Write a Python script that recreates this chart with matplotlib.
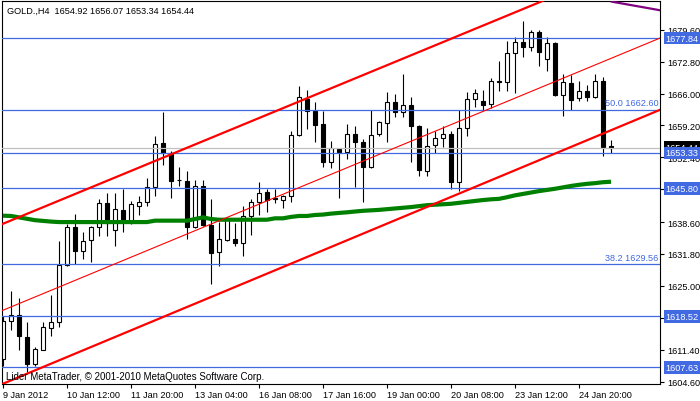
import matplotlib
matplotlib.use("Agg")
import matplotlib.pyplot as plt
import matplotlib.transforms as mtransforms
import numpy as np

plt.rcParams['font.family'] = ['Liberation Sans', 'DejaVu Sans']

## candles, H4 bars (index 0 = 9 Jan 2012 04:00)
opens = [1609.5, 1617.57, 1618.85, 1614.09, 1608.34, 1611.39, 1615.95, 1617.23, 1629.45, 1637.48,
         1632.50, 1634.84, 1637.48, 1642.67, 1636.97, 1641.17, 1638.68, 1642.09, 1642.81, 1646.01,
         1655.46, 1653.33, 1647.60, 1647.36, 1637.61, 1646.23, 1637.97, 1632.15, 1634.78, 1634.93,
         1634.07, 1640.00, 1642.81, 1644.95, 1643.70, 1643.31, 1644.09, 1657.23, 1664.84, 1662.22,
         1659.51, 1651.47, 1654.18, 1653.60, 1657.38, 1655.74, 1650.28, 1657.38, 1659.72, 1664.14,
         1662.00, 1663.56, 1659.02, 1649.55, 1655.03, 1656.46, 1657.38, 1647.08, 1658.59, 1664.78,
         1664.48, 1663.78, 1668.60, 1668.40, 1674.58, 1676.93, 1675.86, 1679.06, 1673.37, 1676.72,
         1665.76, 1668.19, 1665.05, 1666.48, 1665.20, 1668.61, 1654.92]
highs = [1618.5, 1623.84, 1622.35, 1617.23, 1612.03, 1617.23, 1623.11, 1634.63, 1638.19, 1640.32,
         1636.42, 1637.83, 1643.52, 1644.73, 1644.73, 1645.65, 1643.03, 1644.09, 1648.00, 1656.89,
         1662.00, 1653.82, 1650.28, 1649.55, 1647.57, 1647.57, 1643.52, 1638.55, 1639.62, 1638.40,
         1642.09, 1643.52, 1647.08, 1645.65, 1645.65, 1644.30, 1657.95, 1667.68, 1666.82, 1664.14,
         1662.35, 1655.82, 1654.30, 1659.51, 1659.02, 1656.31, 1662.50, 1660.10, 1666.27, 1665.91,
         1670.17, 1665.20, 1659.30, 1658.59, 1658.08, 1659.02, 1657.95, 1662.50, 1666.27, 1666.97,
         1666.76, 1669.32, 1673.00, 1677.27, 1678.12, 1681.54, 1679.55, 1679.55, 1678.00, 1676.93,
         1670.17, 1670.00, 1668.61, 1667.89, 1670.17, 1669.60, 1656.07]
lows = [1607.9, 1615.65, 1611.39, 1606.57, 1607.97, 1611.30, 1614.24, 1616.16, 1629.30, 1629.66,
        1630.73, 1630.15, 1635.57, 1635.57, 1633.56, 1636.55, 1638.19, 1640.11, 1642.09, 1644.09,
        1650.83, 1643.67, 1646.35, 1634.99, 1637.40, 1637.80, 1625.40, 1629.17, 1634.63, 1633.43,
        1631.30, 1635.91, 1640.17, 1640.68, 1642.60, 1641.54, 1642.94, 1656.89, 1658.44, 1655.74,
        1650.28, 1650.06, 1643.67, 1652.05, 1646.14, 1642.81, 1650.06, 1657.00, 1655.74, 1661.07,
        1661.07, 1651.47, 1648.39, 1648.39, 1653.26, 1654.67, 1645.65, 1645.29, 1656.89, 1663.20,
        1662.50, 1662.92, 1666.61, 1666.61, 1666.12, 1673.73, 1675.01, 1671.94, 1670.85, 1665.55,
        1661.28, 1662.60, 1664.35, 1664.35, 1665.00, 1652.75, 1653.34]
closes = [1617.6, 1618.85, 1614.24, 1608.34, 1611.54, 1616.16, 1617.23, 1629.45, 1637.48, 1632.50,
          1634.63, 1637.61, 1642.67, 1638.40, 1641.39, 1638.55, 1642.39, 1642.81, 1646.01, 1655.25,
          1653.33, 1647.42, 1647.50, 1637.61, 1646.23, 1637.97, 1632.00, 1634.93, 1639.25, 1634.07,
          1640.00, 1642.81, 1644.73, 1643.37, 1643.50, 1644.09, 1657.23, 1665.20, 1662.35, 1659.36,
          1651.47, 1654.33, 1653.60, 1657.38, 1655.74, 1650.28, 1657.16, 1659.87, 1664.14, 1662.00,
          1663.56, 1659.02, 1649.77, 1654.88, 1656.46, 1657.38, 1647.08, 1658.59, 1664.78, 1666.18,
          1663.63, 1668.74, 1668.40, 1674.58, 1676.93, 1675.86, 1679.06, 1674.80, 1676.72, 1665.76,
          1668.40, 1664.69, 1666.48, 1665.20, 1668.61, 1654.67, 1654.44]

## moving average (green)
ma_values = [1639.96, 1639.90, 1639.60, 1639.30, 1639.00, 1638.85, 1638.70, 1638.60, 1638.60, 1638.60,
             1638.60, 1638.60, 1638.60, 1638.60, 1638.60, 1638.60, 1638.60, 1638.60, 1638.60, 1638.90,
             1638.90, 1638.90, 1638.90, 1638.90, 1639.25, 1639.60, 1639.25, 1639.10, 1639.10, 1639.10,
             1639.10, 1639.10, 1639.10, 1639.10, 1639.40, 1639.40, 1639.70, 1639.90, 1639.90, 1640.11,
             1640.20, 1640.40, 1640.55, 1640.68, 1640.85, 1641.00, 1641.10, 1641.20, 1641.35, 1641.50,
             1641.65, 1641.80, 1642.00, 1642.20, 1642.30, 1642.40, 1642.50, 1642.70, 1642.90, 1643.10,
             1643.30, 1643.45, 1643.55, 1643.90, 1644.30, 1644.60, 1644.90, 1645.20, 1645.45, 1645.70,
             1646.00, 1646.30, 1646.55, 1646.75, 1646.90, 1647.10, 1647.20]

## horizontal levels
level_prices = [1677.84, 1662.60, 1653.33, 1645.80, 1629.56, 1618.52, 1607.63]
boxed_levels = [1677.84, 1653.33, 1645.80, 1618.52, 1607.63]
fibo_labels = {"50.0 1662.60": 1662.60, "38.2 1629.56": 1629.56}
bid_price = 1654.44

## channel lines: two anchor points (bar, price) each
channel_bars = [0, 60]
channel_upper = [1638.24, 1680.5]
channel_middle = [1619.80, 1662.2]
channel_lower = [1604.13, 1646.8]
purple_bars = [76.1, 83.0]
purple_prices = [1685.6, 1683.5]

price_ticks = [1604.60, 1611.40, 1618.20, 1625.00, 1631.80, 1638.60,
               1645.60, 1652.40, 1659.20, 1666.00, 1672.80, 1679.60]
time_tick_bars = [0, 8, 16, 24, 32, 40, 48, 56, 64, 72]
time_tick_labels = ["9 Jan 2012", "10 Jan 12:00", "11 Jan 20:00", "13 Jan 04:00", "16 Jan 08:00",
                    "17 Jan 16:00", "19 Jan 00:00", "20 Jan 08:00", "23 Jan 12:00", "24 Jan 20:00"]

FS = 7.0
TFS = 6.6
BLUE = "#4169E1"

fig = plt.figure(figsize=(7.0, 4.02), dpi=100)
ax = fig.add_axes([2 / 700, 1 - 385 / 402, 658 / 700, 383 / 402])

x = np.arange(len(opens))
o = np.array(opens)
c = np.array(closes)

# candles
ax.vlines(x, lows, highs, color="black", lw=0.8, zorder=1)
bottoms = np.minimum(o, c)
heights = np.maximum(np.abs(c - o), 0.08)
face = ["white" if cc >= oo else "black" for oo, cc in zip(o, c)]
ax.bar(x, heights, bottom=bottoms, width=0.5, color=face, edgecolor="black", lw=0.8, zorder=2)

# levels
for p in level_prices:
    ax.axhline(p, color=BLUE, lw=0.9, zorder=3)
ax.axhline(bid_price, color="#C0C0C0", lw=0.9, zorder=3)

# moving average
ax.plot(x, ma_values, color="#008000", lw=3.0, solid_capstyle="butt", zorder=4)

# channel
ax.axline((channel_bars[0], channel_upper[0]), (channel_bars[1], channel_upper[1]), color="red", lw=1.6, zorder=5)
ax.axline((channel_bars[0], channel_middle[0]), (channel_bars[1], channel_middle[1]), color="red", lw=0.8, zorder=5)
ax.axline((channel_bars[0], channel_lower[0]), (channel_bars[1], channel_lower[1]), color="red", lw=1.6, zorder=5)
ax.plot(purple_bars, purple_prices, color="#800080", lw=1.6, zorder=5)

for txt, p in fibo_labels.items():
    ax.text(81.9, p + 0.5, txt, color=BLUE, fontsize=TFS, ha="right", va="bottom", zorder=6)

ax.set_xlim(-0.125, 82.125)
ax.set_ylim(1604.07, 1685.74)

ax.yaxis.tick_right()
ax.set_yticks(price_ticks)
ax.set_yticklabels(["%.2f" % t for t in price_ticks])
ax.set_xticks(time_tick_bars)
ax.set_xticklabels(time_tick_labels, ha="left")
ax.tick_params(axis="both", direction="out", length=3, width=0.8, labelsize=TFS, pad=2.5, color="black")
ax.tick_params(axis="x", pad=1.5)
for s in ax.spines.values():
    s.set_linewidth(0.8)
    s.set_color("black")

# price boxes on the right axis
trans = mtransforms.blended_transform_factory(ax.transAxes, ax.transData)
ax.text(1.0085, bid_price, "%.2f" % bid_price, transform=trans, color="white", fontsize=TFS,
        va="center", ha="left", clip_on=False, zorder=7,
        bbox=dict(boxstyle="square,pad=0.2", fc="black", ec="none"))
for p in boxed_levels:
    ax.text(1.0085, p, "%.2f" % p, transform=trans, color="white", fontsize=TFS,
            va="center", ha="left", clip_on=False, zorder=8,
            bbox=dict(boxstyle="square,pad=0.2", fc=BLUE, ec="none"))

fig.text(7 / 700, 1 - 11 / 402, "GOLD.,H4  1654.92 1656.07 1653.34 1654.44", fontsize=TFS, va="center", ha="left")
fig.text(6 / 700, 1 - 377 / 402, "Lider MetaTrader, \u00a9 2001-2010 MetaQuotes Software Corp.",
         fontsize=FS, va="center", ha="left")

fig.savefig("out.png", dpi=100)
